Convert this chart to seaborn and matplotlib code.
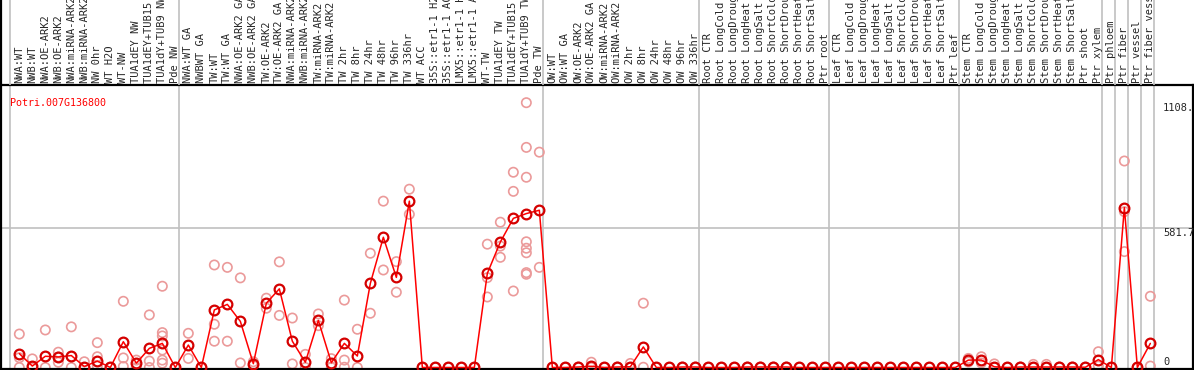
import numpy as np
import pandas as pd
import matplotlib
matplotlib.use("Agg")
import matplotlib.pyplot as plt
import seaborn as sns

gene = "Potri.007G136800"

labels = ["NWA:WT", "NWB:WT", "NWA:OE-ARK2", "NWB:OE-ARK2", "NWA:miRNA-ARK2", "NWB:miRNA-ARK2",
          "NW 0hr", "WT H2O", "WT-NW", "TUA1dEY NW", "TUA1dEY+TUB15 NW", "TUA1dY+TUB9 NW", "Pde NW",
          "NWA:WT GA", "NWBWT GA", "TW:WT", "TW:WT GA", "NWA:OE-ARK2 GA", "NWB:OE-ARK2 GA",
          "TW:OE-ARK2", "TW:OE-ARK2 GA", "NWA:miRNA-ARK2 GA", "NWB:miRNA-ARK2 GA", "TW:miRNA-ARK2",
          "TW:miRNA-ARK2 GA", "TW 2hr", "TW 8hr", "TW 24hr", "TW 48hr", "TW 96hr", "TW 336hr",
          "WT ACC", "35S::etr1-1 H2O", "35S::etr1-1 ACC", "LMX5::etr1-1 H2O", "LMX5::etr1-1 ACC",
          "WT-TW", "TUA1dEY TW", "TUA1dEY+TUB15 TW", "TUA1dY+TUB9 TW", "Pde TW",
          "OW:WT", "OW:WT GA", "OW:OE-ARK2", "OW:OE-ARK2 GA", "OW:miRNA-ARK2", "OW:miRNA-ARK2 GA",
          "OW 2hr", "OW 8hr", "OW 24hr", "OW 48hr", "OW 96hr", "OW 336hr",
          "Root CTR", "Root LongCold", "Root LongDrought", "Root LongHeat", "Root LongSalt",
          "Root ShortCold", "Root ShortDrought", "Root ShortHeat", "Root ShortSalt", "Ptr root",
          "Leaf CTR", "Leaf LongCold", "Leaf LongDrought", "Leaf LongHeat", "Leaf LongSalt",
          "Leaf ShortCold", "Leaf ShortDrought", "Leaf ShortHeat", "Leaf ShortSalt", "Ptr leaf",
          "Stem CTR", "Stem LongCold", "Stem LongDrought", "Stem LongHeat", "Stem LongSalt",
          "Stem ShortCold", "Stem ShortDrought", "Stem ShortHeat", "Stem ShortSalt", "Ptr shoot",
          "Ptr xylem", "Ptr phloem", "Ptr fiber", "Ptr vessel", "Ptr fiber vessel"]

# first index of each group (gray separators)
group_starts = [0, 13, 41, 53, 63, 73, 84, 85, 86, 87, 88]

means = [58, 6, 47, 44, 50, 4, 27, 0, 108, 18, 80, 101, 0,
         94, 0, 241, 264, 193, 16, 269, 329, 110, 22, 197, 20, 101, 48, 352, 545, 377, 696,
         0, 0, 0, 0, 0, 394, 525, 624, 644, 658,
         0, 0, 2, 5, 0, 2, 3, 86, 0, 0, 2, 2,
         0, 0, 0, 2, 2, 2, 2, 0, 0, 0,
         0, 0, 0, 0, 0, 0, 0, 0, 0, 0,
         31, 31, 3, 0, 2, 2, 2, 2, 2, 1, 33,
         0, 669, 0, 101]

reps = [[140, 41, 0], [36, 0], [157, 0], [64, 22, 44], [170, 0], [24, 0], [104, 45, 6], [0, 0],
        [277, 40, 4], [31, 0], [220, 27, 0], [340, 146, 132, 73, 31, 18], [0],
        [143, 38], [0], [429, 181, 110], [419, 110], [375, 19], [24, 8], [290, 248], [442, 218],
        [207, 15], [55, 0], [224, 175], [37, 0], [282, 31, 1], [160, 0], [478, 227], [696, 408],
        [443, 315], [746, 641],
        [0], [0], [0], [0], [0], [516, 376, 295], [608, 508, 461], [817, 737, 320],
        [1108, 921, 796, 526, 499, 480, 397, 390], [901, 419],
        [0], [0], [2], [22, 0], [0], [2], [17, 0], [269, 1], [0], [0], [2], [2],
        [0], [0], [0], [2], [2], [2], [2], [0], [0], [0],
        [0], [0], [0], [0], [0], [0], [0], [0], [0], [0],
        [38, 23], [45, 19], [15, 0], [0], [2], [13, 0], [13, 0], [2], [2], [1], [66, 6],
        [0], [864, 652, 485], [0], [298, 6]]

y_ticks = [0, 581.7, 1108.2]

rep_df = pd.DataFrame([(i, v) for i, r in enumerate(reps) for v in r], columns=["pos", "value"])
mean_df = pd.DataFrame({"pos": np.arange(len(labels)), "value": means})

sns.set_style("white")
plt.rcParams["font.family"] = ["DejaVu Sans Mono", "DejaVu Sans"]

fig = plt.figure(figsize=(11.94, 3.70), dpi=100)
ax = fig.add_axes([1 / 1194, 1 / 370, 1192 / 1194, 284 / 370])
hax = fig.add_axes([1 / 1194, 285 / 370, 1192 / 1194, 85 / 370])

xlim = (-1.41, 90.28)
ylim = (-6.3, 1182)
sep = [g - 0.715 for g in group_starts]

for a in (ax, hax):
    a.set_xlim(*xlim)
    for s in sep:
        a.axvline(s, color="#c0c0c0", lw=1.2, zorder=0)

ax.set_ylim(*ylim)
ax.axhline(y_ticks[1], color="#c0c0c0", lw=1.2, zorder=0)

sns.scatterplot(data=rep_df, x="pos", y="value", ax=ax, marker="o", s=45,
                facecolors="none", edgecolor="#eb9a9a", linewidth=1.2, zorder=2, legend=False)
sns.lineplot(data=mean_df, x="pos", y="value", ax=ax, color="red", lw=1.1, sort=False,
             estimator=None, marker="o", markersize=7, markerfacecolor="none",
             markeredgecolor="#d40000", markeredgewidth=1.6, zorder=3)

ax.set_xticks([])
ax.set_yticks([])
ax.set_xlabel("")
ax.set_ylabel("")
for sp in ax.spines.values():
    sp.set_color("black")
    sp.set_linewidth(1.6)

ax.text(-0.75, 1108, gene, color="red", fontsize=7.2, ha="left", va="center")
ax.text(87.98, y_ticks[2], "%.1f" % y_ticks[2], fontsize=7.5, ha="left", va="top")
ax.text(87.98, y_ticks[1], "%.1f" % y_ticks[1], fontsize=7.5, ha="left", va="top")
ax.text(87.98, 4, "0", fontsize=7.5, ha="left", va="bottom")

hax.set_ylim(0, 1)
hax.set_xticks([])
hax.set_yticks([])
for name, sp in hax.spines.items():
    sp.set_visible(name == "left")
hax.spines["left"].set_color("black")
hax.spines["left"].set_linewidth(1.6)
hax.patch.set_alpha(0)
for i, lab in enumerate(labels):
    hax.text(i, 0.02, lab, rotation=90, fontsize=7.5, ha="center", va="bottom")

fig.savefig("out.png", dpi=100)
